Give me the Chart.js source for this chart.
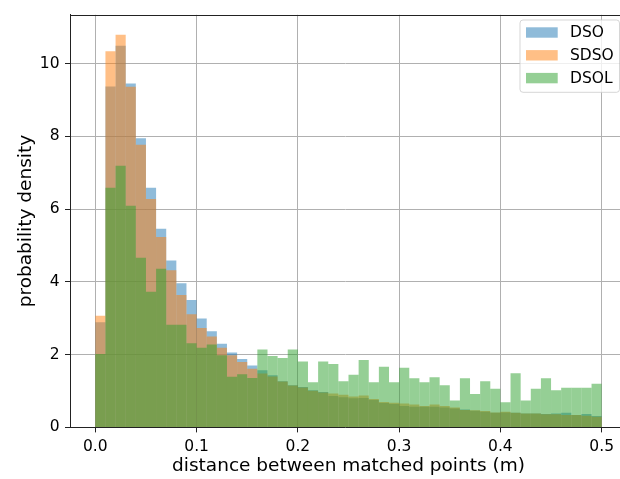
<!DOCTYPE html>
<html><head><meta charset="utf-8">
<script src="https://cdn.jsdelivr.net/npm/chart.js@4"></script>
<style>html,body{margin:0;padding:0;background:#fff}#wrap{width:620px;height:479px;overflow:hidden}</style>
</head><body><div id="wrap"><canvas id="c" width="620" height="479"></canvas></div>
<script>
const binEdges = [0.00,0.01,0.02,0.03,0.04,0.05,0.06,0.07,0.08,0.09,
  0.10,0.11,0.12,0.13,0.14,0.15,0.16,0.17,0.18,0.19,
  0.20,0.21,0.22,0.23,0.24,0.25,0.26,0.27,0.28,0.29,
  0.30,0.31,0.32,0.33,0.34,0.35,0.36,0.37,0.38,0.39,
  0.40,0.41,0.42,0.43,0.44,0.45,0.46,0.47,0.48,0.49,0.50];
const seriesNames = ['DSO','SDSO','DSOL'];
const dso = [2.89,9.37,10.49,9.45,7.95,6.59,5.46,4.59,3.96,3.50,
  2.99,2.64,2.30,2.06,1.88,1.70,1.57,1.43,1.27,1.16,
  1.11,1.02,0.97,0.86,0.83,0.80,0.81,0.75,0.67,0.64,
  0.59,0.57,0.57,0.57,0.55,0.52,0.49,0.46,0.43,0.40,
  0.41,0.40,0.38,0.38,0.37,0.38,0.40,0.34,0.37,0.31];
const sdso = [3.07,10.34,10.79,9.36,7.77,6.28,5.23,4.32,3.64,3.11,
  2.73,2.50,2.19,1.98,1.80,1.61,1.48,1.40,1.26,1.15,
  1.10,1.01,0.96,0.93,0.90,0.85,0.88,0.78,0.70,0.68,
  0.66,0.63,0.59,0.63,0.59,0.55,0.48,0.47,0.45,0.41,
  0.43,0.40,0.38,0.38,0.36,0.36,0.34,0.34,0.32,0.29];
const dsol = [2.02,6.59,7.19,6.09,4.66,3.73,4.36,2.82,2.82,2.31,
  2.19,2.28,1.98,1.39,1.46,1.36,2.14,1.96,1.91,2.14,
  1.81,1.24,1.81,1.74,1.27,1.45,1.85,1.24,1.67,1.24,
  1.64,1.35,1.24,1.38,1.16,0.74,1.35,0.92,1.27,1.06,
  0.69,1.49,0.74,1.06,1.35,1.02,1.09,1.09,1.09,1.20];
const xTicks = [0.0,0.1,0.2,0.3,0.4,0.5];
const yTicks = [0,2,4,6,8,10];
const colors = ['rgba(31,119,180,0.5)','rgba(255,127,14,0.5)','rgba(44,160,44,0.5)'];

function toPoints(vals){
  return vals.map((v,i)=>({x:(binEdges[i]+binEdges[i+1])/2, y:v}));
}
const seriesVals = [dso, sdso, dsol];
const FONT = "'DejaVu Sans', sans-serif";

// the original axes box runs past the right edge of the image (cropped figure)
const extendAxis = {
  id:'extendAxis',
  afterLayout(chart){
    const s = chart.scales.x;
    s.right = 627; s.width = s.right - s.left; s.configure();
  }
};

const legendPlugin = {
  id:'mplLegend',
  afterDraw(chart){
    const ctx = chart.ctx;
    const ca = chart.chartArea;
    const L = 520, T = 20, R = 619.5, B = 92.3, r = 3;
    ctx.save();
    ctx.beginPath();
    ctx.moveTo(L+r,T); ctx.lineTo(R-r,T); ctx.quadraticCurveTo(R,T,R,T+r);
    ctx.lineTo(R,B-r); ctx.quadraticCurveTo(R,B,R-r,B);
    ctx.lineTo(L+r,B); ctx.quadraticCurveTo(L,B,L,B-r);
    ctx.lineTo(L,T+r); ctx.quadraticCurveTo(L,T,L+r,T);
    ctx.closePath();
    ctx.fillStyle='rgba(255,255,255,0.8)'; ctx.fill();
    ctx.strokeStyle='rgba(204,204,204,0.8)'; ctx.lineWidth=1; ctx.stroke();
    const ds = chart.data.datasets;
    ctx.font = '15.5px ' + FONT;
    ctx.textBaseline='middle'; ctx.textAlign='left';
    for(let i=0;i<ds.length;i++){
      const cy = 32.5 + i*22.8;
      ctx.fillStyle = ds[i].backgroundColor;
      ctx.fillRect(526, cy-5.2, 31.7, 10.4);
      ctx.fillStyle = '#000';
      ctx.fillText(ds[i].label, 570, cy+0.5);
    }
    ctx.strokeStyle='#222'; ctx.lineWidth=1;
    ctx.beginPath(); ctx.moveTo(ca.left, Math.round(ca.top)+0.5); ctx.lineTo(620, Math.round(ca.top)+0.5); ctx.stroke();
    ctx.restore();
  }
};

new Chart(document.getElementById('c'), {
  type:'bar',
  data:{ datasets: seriesNames.map((n,i)=>({
    label:n, data:toPoints(seriesVals[i]), backgroundColor:colors[i],
    borderWidth:0, grouped:false, barPercentage:1, categoryPercentage:1,
    inflateAmount:0, order:3-i
  }))},
  options:{
    responsive:false, animation:false, devicePixelRatio:1,
    layout:{padding:{left:0, right:0, top:11.7, bottom:0}},
    plugins:{legend:{display:false}, tooltip:{enabled:false}},
    scales:{
      x:{type:'linear', min:-0.025, max:0.525, z:1, offset:false,
        afterBuildTicks:s=>{s.ticks = xTicks.map(v=>({value:v}));},
        afterFit:s=>{s.height = 479-427.4;},
        grid:{offset:false, color:'#b0b0b0', lineWidth:1, tickLength:5, tickColor:'#222', drawOnChartArea:true},
        border:{display:true, color:'#222', width:1},
        ticks:{font:{family:FONT, size:15.5}, color:'#000', padding:5, maxRotation:0, autoSkip:false,
          callback:v=>Number(v).toFixed(1)},
        title:{display:true, text:'distance between matched points (m)', color:'#000',
          font:{family:FONT, size:18.5}, padding:{top:0,bottom:2}}
      },
      y:{type:'linear', min:0, max:11.34, z:1,
        afterBuildTicks:s=>{s.ticks = yTicks.map(v=>({value:v}));},
        afterFit:s=>{s.width = 70;},
        grid:{color:'#b0b0b0', lineWidth:1, tickLength:5, tickColor:'#222', drawOnChartArea:true},
        border:{display:true, color:'#222', width:1},
        ticks:{font:{family:FONT, size:15.5}, color:'#000', padding:5.5, autoSkip:false,
          callback:v=>String(v)},
        title:{display:true, text:'probability density', color:'#000',
          font:{family:FONT, size:18.5}, padding:{top:15,bottom:0}}
      }
    }
  },
  plugins:[extendAxis, legendPlugin]
});
</script>
</body></html>
